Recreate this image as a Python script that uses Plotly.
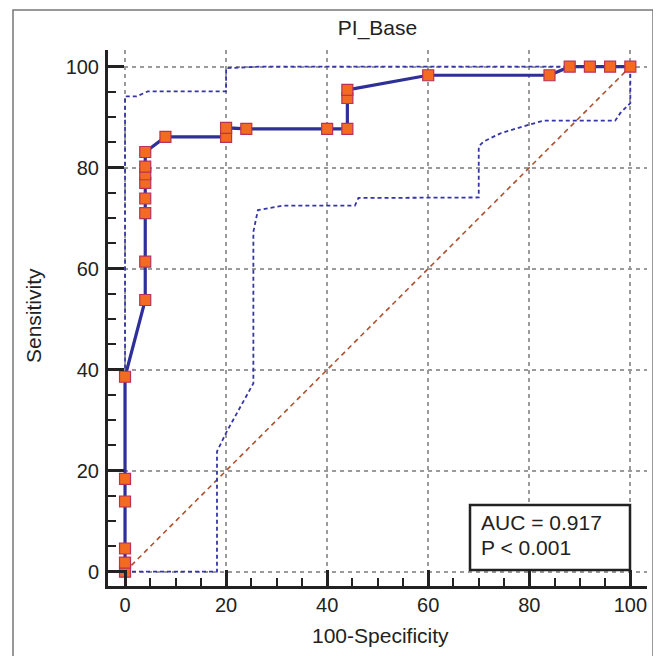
import plotly.graph_objects as go

# ROC curve points (100-Specificity, Sensitivity)
roc_x = [0, 0, 0, 0, 0, 0, 4, 4, 4, 4, 4, 4, 4, 4, 8, 20, 20, 24, 40, 44, 44, 44, 60, 84, 88, 92, 96, 100]
roc_y = [0, 1.8, 4.6, 13.9, 18.4, 38.6, 53.8, 61.4, 71.0, 73.9, 77.0, 78.7, 80.2, 83.1,
         86.1, 86.1, 87.9, 87.7, 87.7, 87.7, 93.8, 95.4, 98.3, 98.3, 100, 100, 100, 100]

# Upper confidence bound
ci_up_x = [0, 0, 2.3, 4.5, 20, 20, 26.7, 100]
ci_up_y = [0, 94.1, 94.1, 95.1, 95.1, 99.7, 100, 100]

# Lower confidence bound
ci_lo_x = [0, 18.2, 18.2, 20, 25.4, 25.4, 26.3, 31.3, 45.5, 46.2, 70, 70, 71, 74.3, 79.9, 82.8, 97, 98, 100, 100]
ci_lo_y = [0, 0, 23.8, 27.5, 37.3, 67.3, 71.6, 72.5, 72.5, 74.0, 74.1, 84.2, 85.2, 86.8, 88.5, 89.3, 89.3, 90.8, 92.8, 100]

# Reference diagonal
diag_x = [0, 100]
diag_y = [0, 100]

tick_vals = [0, 20, 40, 60, 80, 100]
tick_text = ["0", "20", "40", "60", "80", "100"]

title_text = "PI_Base"
x_title = "100-Specificity"
y_title = "Sensitivity"
auc_lines = ["AUC = 0.917", "P < 0.001"]

FONT = "Liberation Sans, Arial, sans-serif"
W, H = 661, 656
OFF = 8  # page body margin
# plot area in page pixels: x 108..647, y 50..586
L = 108 - OFF
T = 50 - OFF
R = W - (647 - OFF)
B = H - (586 - OFF)

fig = go.Figure()
fig.add_trace(go.Scatter(x=diag_x, y=diag_y, mode="lines",
                         line=dict(color="#B0502A", width=1.6, dash="5px,4px"),
                         hoverinfo="skip", showlegend=False))
fig.add_trace(go.Scatter(x=ci_up_x, y=ci_up_y, mode="lines",
                         line=dict(color="#3535A8", width=1.8, dash="4px,3px"),
                         showlegend=False))
fig.add_trace(go.Scatter(x=ci_lo_x, y=ci_lo_y, mode="lines",
                         line=dict(color="#3535A8", width=1.8, dash="4px,3px"),
                         showlegend=False))
fig.add_trace(go.Scatter(x=roc_x, y=roc_y, mode="lines+markers",
                         line=dict(color="#2F2F98", width=3.2),
                         marker=dict(symbol="square", size=11, color="#F26B21",
                                     line=dict(color="#B8325A", width=1.2)),
                         showlegend=False))

axis_common = dict(
    tickmode="array", tickvals=tick_vals, ticktext=tick_text,
    showline=True, linecolor="#222222", linewidth=3,
    ticks="inside", ticklen=16, tickwidth=3, tickcolor="#222222",
    showgrid=True, gridcolor="#9a9a9a", gridwidth=1.5, griddash="4px,4px",
    zeroline=False,
    tickfont=dict(family=FONT, size=20, color="#222222"),
    minor=dict(dtick=5, tick0=0, ticks="inside", ticklen=8, tickwidth=2,
               tickcolor="#222222", showgrid=False),
    fixedrange=True,
)

fig.update_layout(
    width=W, height=H,
    margin=dict(l=L, r=R, t=T, b=B),
    paper_bgcolor="white", plot_bgcolor="white",
    xaxis=dict(range=[-3.37, 103.3], ticklabelstandoff=-1, **axis_common),
    yaxis=dict(range=[-2.83, 103.3], ticklabelstandoff=2, **axis_common),
    title=dict(text=title_text, x=0.5, xref="paper", y=1 - (28 - OFF) / H, yref="container",
               xanchor="center", yanchor="middle",
               font=dict(family=FONT, size=21, color="#222222")),
    font=dict(family=FONT, color="#222222"),
)

pw = W - L - R
ph = H - T - B

def px_x(p):
    return (p - OFF - L) / pw

def px_y(p):
    return (H - B - (p - OFF)) / ph

fig.add_annotation(text=x_title, xref="paper", yref="paper",
                   x=px_x(380), y=px_y(635), showarrow=False,
                   xanchor="center", yanchor="middle",
                   font=dict(family=FONT, size=21, color="#222222"))
fig.add_annotation(text=y_title, xref="paper", yref="paper",
                   x=px_x(33), y=px_y(316), showarrow=False, textangle=-90,
                   xanchor="center", yanchor="middle",
                   font=dict(family=FONT, size=21, color="#222222"))

# AUC box
fig.add_shape(type="rect", xref="paper", yref="paper",
              x0=px_x(470), x1=px_x(630), y0=px_y(570), y1=px_y(505),
              line=dict(color="#222222", width=2.5), fillcolor="white", layer="above")
fig.add_annotation(text=auc_lines[0], xref="paper", yref="paper",
                   x=px_x(479), y=px_y(522), showarrow=False,
                   xanchor="left", yanchor="middle",
                   font=dict(family=FONT, size=21, color="#222222"))
fig.add_annotation(text=auc_lines[1], xref="paper", yref="paper",
                   x=px_x(479), y=px_y(547), showarrow=False,
                   xanchor="left", yanchor="middle",
                   font=dict(family=FONT, size=21, color="#222222"))

# Outer frame
fig.add_shape(type="rect", xref="paper", yref="paper",
              x0=px_x(13), x1=px_x(653), y0=px_y(670), y1=px_y(10),
              line=dict(color="#777777", width=1.5), layer="below")

fig.write_html("out.html")
